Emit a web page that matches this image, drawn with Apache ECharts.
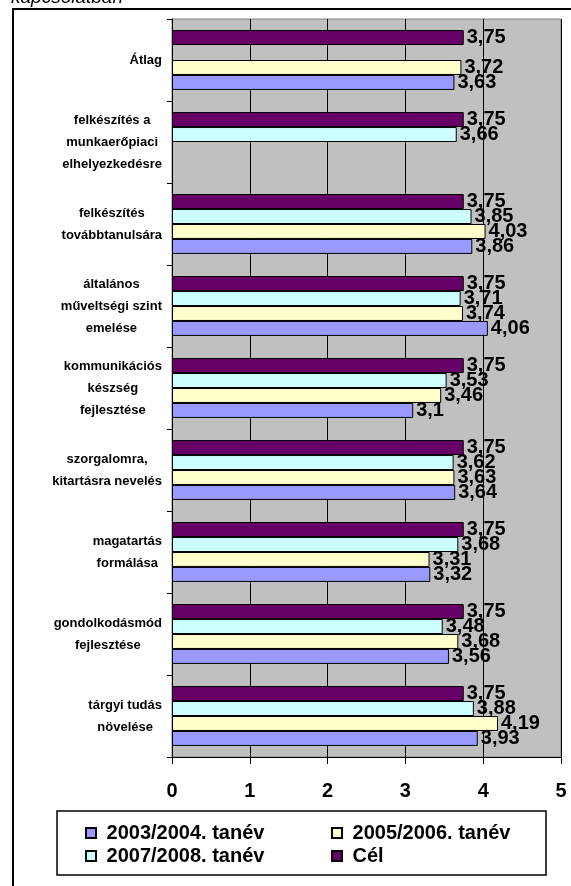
<!DOCTYPE html>
<html>
<head>
<meta charset="utf-8">
<script src="https://cdn.jsdelivr.net/npm/echarts@6/dist/echarts.min.js"></script>
<style>html,body{margin:0;padding:0;background:#fff;}#c{width:571px;height:886px;}</style>
</head>
<body>
<div id="c"></div>
<script>
const categories = [
  'Átlag',
  'felkészítés a\nmunkaerőpiaci\nelhelyezkedésre',
  'felkészítés\ntovábbtanulsára',
  'általános\nműveltségi szint\nemelése',
  'kommunikációs\nkészség\nfejlesztése',
  'szorgalomra,\nkitartásra nevelés',
  'magatartás\nformálása',
  'gondolkodásmód\nfejlesztése',
  'tárgyi tudás\nnövelése'
];
const seriesNames = ['2003/2004. tanév', '2005/2006. tanév', '2007/2008. tanév', 'Cél'];
const v2003 = [3.63, null, 3.86, 4.06, 3.1, 3.64, 3.32, 3.56, 3.93];
const v2005 = [3.72, null, 4.03, 3.74, 3.46, 3.63, 3.31, 3.68, 4.19];
const v2007 = [null, 3.66, 3.85, 3.71, 3.53, 3.62, 3.68, 3.48, 3.88];
const vCel  = [3.75, 3.75, 3.75, 3.75, 3.75, 3.75, 3.75, 3.75, 3.75];
const xTicks = [0, 1, 2, 3, 4, 5];

const colors = {
  '2003/2004. tanév': '#9999FF',
  '2005/2006. tanév': '#FFFFCC',
  '2007/2008. tanév': '#CCFFFF',
  'Cél': '#660066'
};
const FONT = 'Arial, "Liberation Sans", sans-serif';

function mkSeries(name, data) {
  return {
    name: name,
    type: 'bar',
    data: data,
    barGap: '0%',
    barCategoryGap: '27%',
    itemStyle: { color: colors[name], borderColor: '#000', borderWidth: 1 },
    label: {
      show: true,
      position: 'right',
      distance: 3,
      color: '#000',
      fontFamily: FONT,
      fontWeight: 'bold',
      fontSize: 20,
      formatter: p => String(p.value).replace('.', ',')
    }
  };
}

const chart = echarts.init(document.getElementById('c'), null, { renderer: 'canvas' });
chart.setOption({
  animation: false,
  backgroundColor: '#fff',
  grid: {
    left: 172, right: 10, top: 19, bottom: 129,
    show: true, backgroundColor: '#C0C0C0', borderColor: '#808080', borderWidth: 1
  },
  xAxis: {
    type: 'value', min: xTicks[0], max: xTicks[xTicks.length - 1], interval: 1,
    axisLine: { show: true, lineStyle: { color: '#000', width: 1 } },
    axisTick: { show: true, length: 7, lineStyle: { color: '#000' } },
    splitLine: { show: true, lineStyle: { color: '#000', width: 1 } },
    axisLabel: { color: '#000', fontFamily: FONT, fontWeight: 'bold', fontSize: 20, margin: 24 }
  },
  yAxis: {
    type: 'category', inverse: true, data: categories,
    axisLine: { show: true, lineStyle: { color: '#000', width: 1 } },
    axisTick: { show: true, length: 5, lineStyle: { color: '#000' } },
    splitLine: { show: false },
    axisLabel: {
      align: 'right', margin: 10,
      formatter: v => v.split('\n').map(l => '{c|' + l + '}').join('\n'),
      rich: { c: { align: 'center', color: '#000', fontFamily: FONT, fontWeight: 'bold', fontSize: 13, lineHeight: 22 } }
    }
  },
  legend: [
    {
      data: [seriesNames[0], seriesNames[2]],
      orient: 'vertical', left: 80, top: 818, itemGap: 3,
      itemWidth: 10, itemHeight: 10, icon: 'rect',
      formatter: n => ' ' + n,
      textStyle: { color: '#000', fontFamily: FONT, fontWeight: 'bold', fontSize: 20 }
    },
    {
      data: [seriesNames[1], seriesNames[3]],
      orient: 'vertical', left: 326, top: 818, itemGap: 3,
      itemWidth: 10, itemHeight: 10, icon: 'rect',
      formatter: n => ' ' + n,
      textStyle: { color: '#000', fontFamily: FONT, fontWeight: 'bold', fontSize: 20 }
    }
  ],
  graphic: [
    { type: 'rect', z: -10, shape: { x: 13, y: 9, width: 600, height: 900 }, style: { fill: 'none', stroke: '#000', lineWidth: 2 } },
    { type: 'rect', z: 1, shape: { x: 57, y: 811, width: 489, height: 64 }, style: { fill: '#fff', stroke: '#000', lineWidth: 1.5 } },
    { type: 'text', z: 1, x: 11, y: -2, style: { text: 'kapcsolatban', font: 'italic 19px Arial, "Liberation Sans", sans-serif', fill: '#000', verticalAlign: 'middle' } }
  ],
  series: [
    mkSeries('Cél', vCel),
    mkSeries('2007/2008. tanév', v2007),
    mkSeries('2005/2006. tanév', v2005),
    mkSeries('2003/2004. tanév', v2003)
  ]
});
</script>
</body>
</html>
